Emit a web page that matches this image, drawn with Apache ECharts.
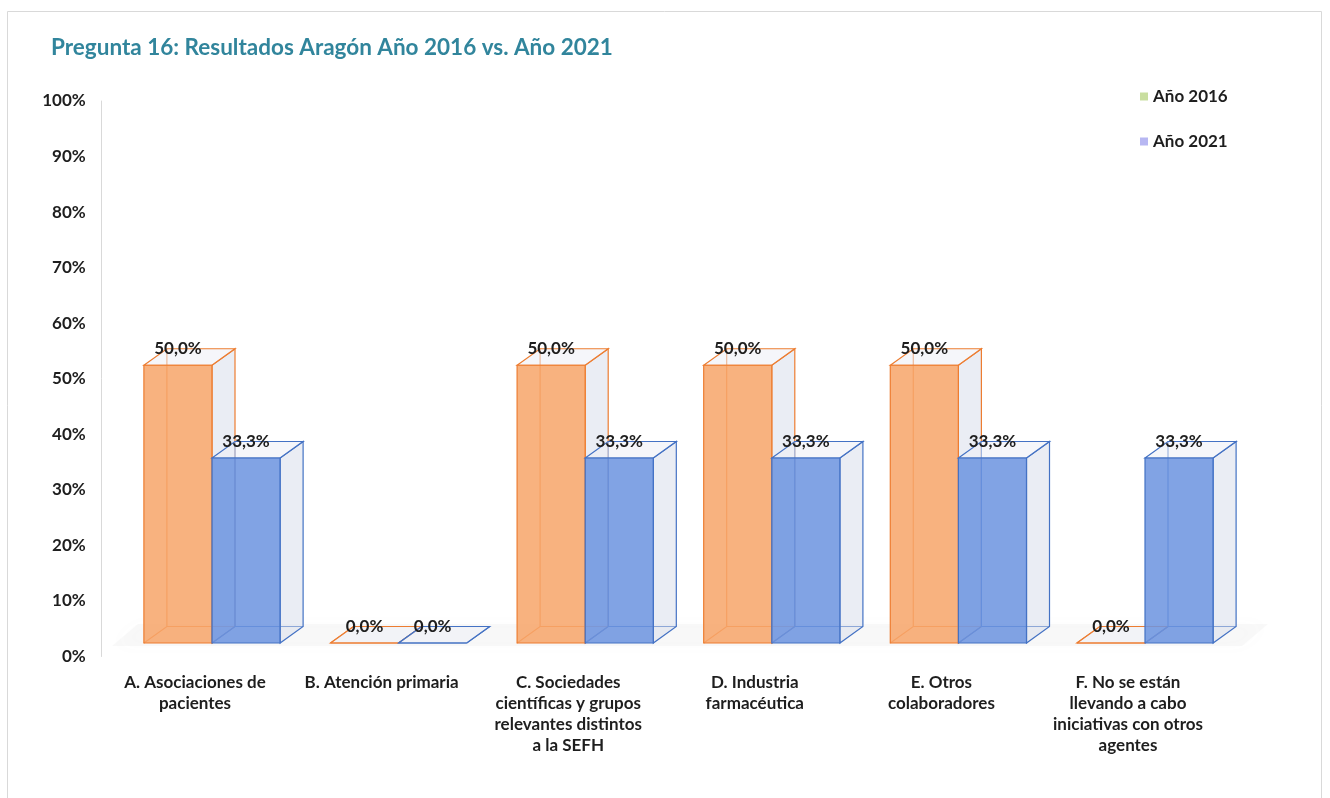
<!DOCTYPE html>
<html>
<head>
<meta charset="utf-8">
<script src="https://cdn.jsdelivr.net/npm/echarts@6/dist/echarts.min.js"></script>
<style>
  html, body { margin: 0; padding: 0; background: #fff; }
  #chart { width: 1330px; height: 798px; }
</style>
</head>
<body>
<div id="chart"></div>
<script>
const categories = [
  "A. Asociaciones de\npacientes",
  "B. Atención primaria",
  "C. Sociedades\ncientíficas y grupos\nrelevantes distintos\na la SEFH",
  "D. Industria\nfarmacéutica",
  "E. Otros\ncolaboradores",
  "F. No se están\nllevando a cabo\niniciativas con otros\nagentes"
];
const year2016 = [50, 0, 50, 50, 50, 0];
const year2021 = [33.3, 0, 33.3, 33.3, 33.3, 33.3];
const seriesNames = ["Año 2016", "Año 2021"];
const yMin = 0, yMax = 100, yStep = 10;

const FONT = "Lato, 'Liberation Sans', sans-serif";
// fake 3D depth (px), and how far the bar floor sits above the axis zero
const DX = 23, DY = -16.5, LIFT = 13.5;

const fmt = v => v.toFixed(1).replace(".", ",") + "%";

function boxRenderer(side, fill, stroke) {
  return function (params, api) {
    const idx = api.value(0);
    const v = api.value(1);
    const top = api.coord([idx, v]);
    const base = api.coord([idx, 0]);
    const w = api.size([1, 0])[0] * 0.365;
    const x0 = side === "left" ? top[0] - w : top[0];
    const x1 = x0 + w;
    const yt = top[1] - LIFT;
    const yb = base[1] - LIFT;
    const edge = { stroke, lineWidth: 1.2, fill: null };
    return {
      type: "group",
      children: [
        {
          type: "polyline",
          shape: { points: [[x0, yb], [x0 + DX, yb + DY], [x1 + DX, yb + DY]] },
          style: edge
        },
        {
          type: "line",
          shape: { x1: x0 + DX, y1: yb + DY, x2: x0 + DX, y2: yt + DY },
          style: edge
        },
        {
          type: "polygon",
          shape: { points: [[x1, yt], [x1 + DX, yt + DY], [x1 + DX, yb + DY], [x1, yb]] },
          style: { fill: "rgba(214,220,234,0.5)", stroke, lineWidth: 1.2 }
        },
        {
          type: "polygon",
          shape: { points: [[x0, yt], [x0 + DX, yt + DY], [x1 + DX, yt + DY], [x1, yt]] },
          style: { fill: "rgba(236,239,246,0.55)", stroke, lineWidth: 1.2 }
        },
        {
          type: "rect",
          shape: { x: x0, y: yt, width: w, height: yb - yt },
          style: { fill, stroke, lineWidth: 1.2 }
        },
        {
          type: "text",
          z2: 100,
          style: {
            x: (x0 + x1) / 2,
            y: yt + DY,
            text: fmt(v),
            fill: "#1e1e1e",
            font: "bold 17px " + FONT,
            align: "center",
            verticalAlign: "middle"
          }
        }
      ]
    };
  };
}

const chart = echarts.init(document.getElementById("chart"));

chart.setOption({
  backgroundColor: "#fff",
  animation: false,
  title: {
    text: "Pregunta 16: Resultados Aragón Año 2016 vs. Año 2021",
    left: 46,
    top: 31,
    textStyle: { color: "#31859c", fontSize: 22.5, fontWeight: "bold", fontFamily: FONT }
  },
  legend: {
    orient: "vertical",
    left: 1135,
    top: 83,
    itemWidth: 8,
    itemHeight: 8,
    itemGap: 28,
    icon: "rect",
    textStyle: { color: "#1e1e1e", fontSize: 17, fontWeight: "bold", fontFamily: FONT },
    data: [
      { name: seriesNames[0], itemStyle: { color: "#c9dea0" } },
      { name: seriesNames[1], itemStyle: { color: "#b7b7f2" } }
    ]
  },
  graphic: [
    {
      type: "rect",
      z: -10,
      shape: { x: 7.5, y: 11.5, width: 1314, height: 800 },
      style: { fill: "#fff", stroke: "#d9d9d9", lineWidth: 1 }
    },
    {
      type: "polygon",
      z: -5,
      shape: { points: [[112, 646], [1242, 646], [1268, 624], [138, 624]] },
      style: {
        fill: "rgba(170,170,170,0.07)",
        shadowBlur: 18,
        shadowColor: "rgba(160,160,160,0.3)"
      }
    }
  ],
  grid: { left: 118.7, right: 1330 - 1238.3, top: 101, bottom: 798 - 656.5 },
  xAxis: {
    type: "category",
    data: categories,
    axisLine: { show: false },
    axisTick: { show: false },
    axisLabel: {
      interval: 0,
      margin: 16,
      color: "#1e1e1e",
      fontSize: 17,
      fontWeight: "bold",
      fontFamily: FONT,
      lineHeight: 21,
      padding: [0, 34, 0, 0]
    }
  },
  yAxis: {
    type: "value",
    min: yMin,
    max: yMax,
    interval: yStep,
    offset: 17,
    axisLine: { show: true, lineStyle: { color: "#d9d9d9" } },
    axisTick: { show: false },
    splitLine: { show: false },
    axisLabel: {
      formatter: "{value}%",
      margin: 16,
      color: "#1e1e1e",
      fontSize: 17,
      fontWeight: "bold",
      fontFamily: FONT
    }
  },
  series: [
    {
      name: seriesNames[0],
      type: "custom",
      z: 2,
      renderItem: boxRenderer("left", "rgba(247,165,106,0.86)", "#ed7d31"),
      encode: { x: 0, y: 1 },
      data: year2016.map((v, i) => [i, v])
    },
    {
      name: seriesNames[1],
      type: "custom",
      z: 3,
      renderItem: boxRenderer("right", "rgba(108,148,224,0.86)", "#4472c4"),
      encode: { x: 0, y: 1 },
      data: year2021.map((v, i) => [i, v])
    }
  ]
});
</script>
</body>
</html>
